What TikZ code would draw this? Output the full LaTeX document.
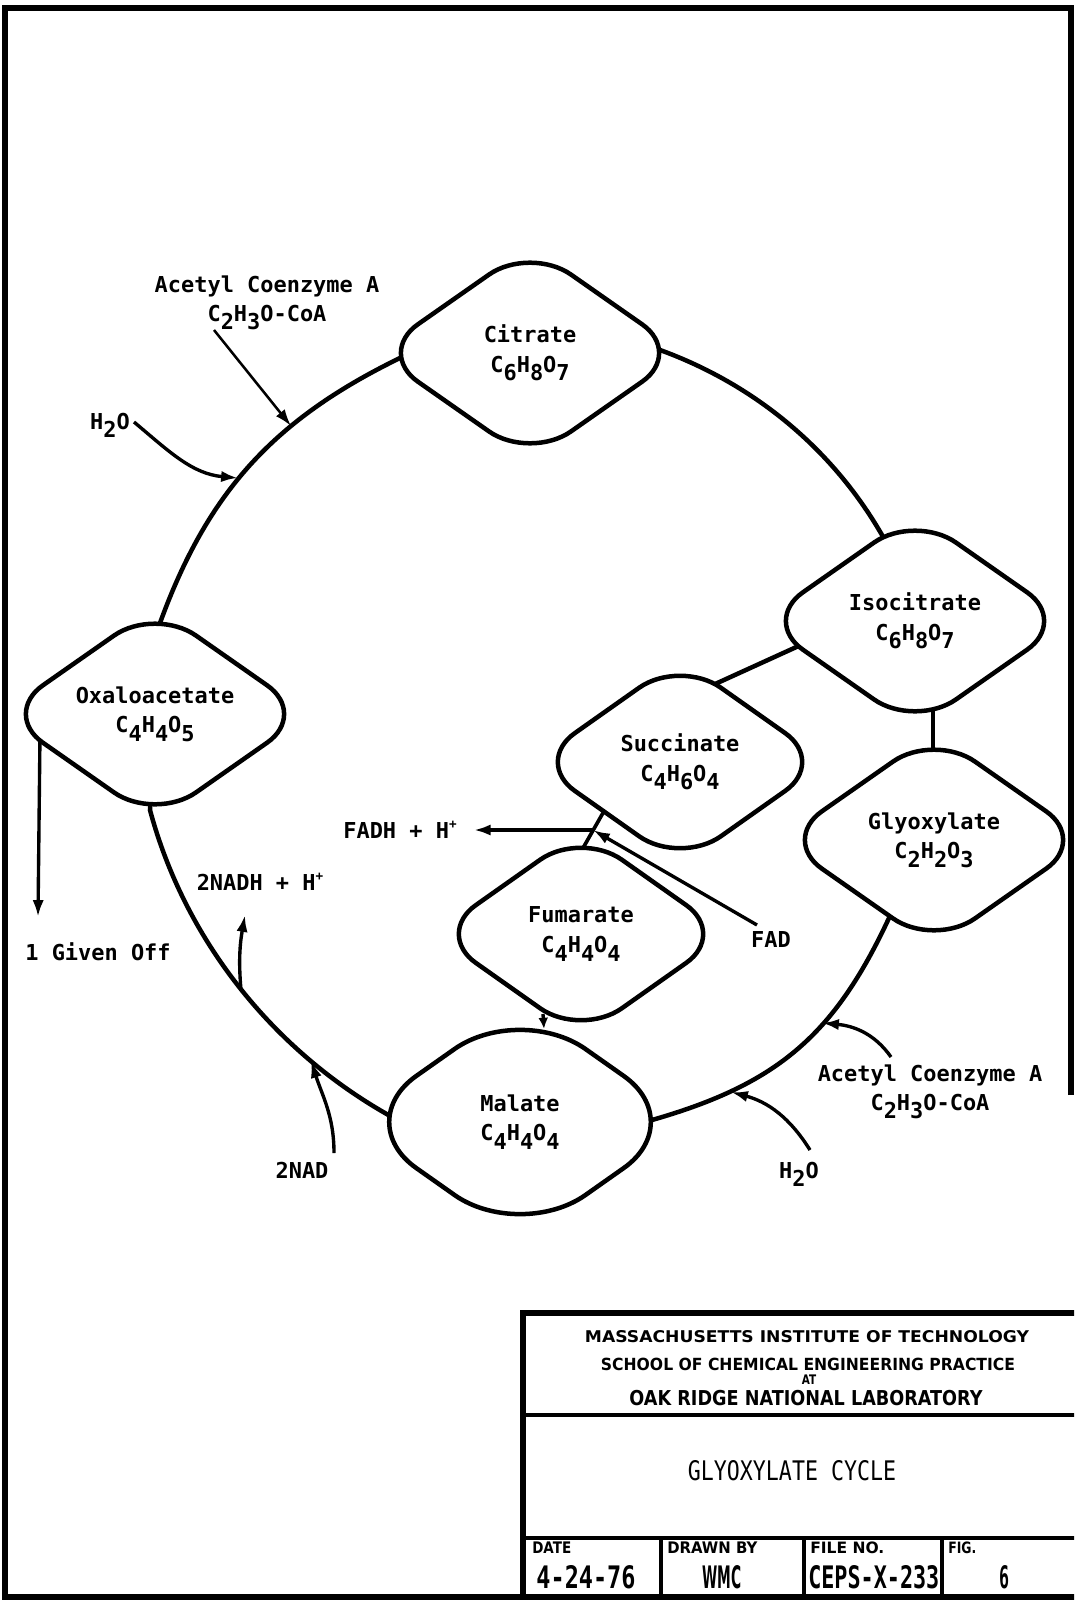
\documentclass[tikz,border=0pt]{standalone}
\usepackage{fontspec}
\usepackage{graphicx}
\setmainfont{DejaVu Sans Mono}
\setsansfont{DejaVu Sans}
\usetikzlibrary{shapes.geometric,arrows.meta,backgrounds}

\newcommand{\dn}[1]{\raisebox{-0.4em}{#1}}
\newcommand{\up}[1]{\raisebox{0.45em}{\small #1}}
\newcommand{\fitbox}[3]{\resizebox{#1}{#2}{#3}}

\tikzset{
  chem/.style={diamond, draw, fill=white, line width=3.2pt, rounded corners=1.25cm,
    minimum width=7.7cm, minimum height=5.4cm, inner sep=0pt, align=center,
    font=\fontsize{15.6}{21}\selectfont\bfseries},
  lab/.style={inner sep=1pt, align=center, anchor=base, font=\fontsize{15.6}{20}\selectfont\bfseries},
  ring/.style={line width=3.2pt},
  arr/.style={line width=2.4pt, -{Latex[length=12pt,width=8pt]}},
  blk/.style={inner sep=0pt, anchor=base, font=\sffamily\bfseries},
}

\begin{document}
\begin{tikzpicture}[x=0.025cm,y=0.025cm]
	\clip (0,0) rectangle (1074,-1602);

	% compounds of the cycle
	\node[chem] (cit) at (530,-353) {Citrate\\C\dn6H\dn8O\dn7};
	\node[chem] (iso) at (915,-621) {Isocitrate\\C\dn6H\dn8O\dn7};
	\node[chem] (gly) at (934,-840) {Glyoxylate\\C\dn2H\dn2O\dn3};
	\node[chem, minimum width=7.35cm, minimum height=5.2cm] (suc) at (680,-762) {Succinate\\C\dn4H\dn6O\dn4};
	\node[chem, minimum width=7.35cm, minimum height=5.2cm] (fum) at (581,-934) {Fumarate\\C\dn4H\dn4O\dn4};
	\node[chem, minimum width=8.5cm, minimum height=6cm, rounded corners=2cm] (mal) at (520,-1122) {Malate\\C\dn4H\dn4O\dn4};
	\node[chem] (oxal) at (155,-714) {Oxaloacetate\\C\dn4H\dn4O\dn5};

	% the ring, drawn under the compounds
	\begin{scope}[on background layer]
		\draw[ring] (oxal.center) -- ([shift={(5,91)}]oxal.center) .. controls +(70:140) and +(206:140) .. ([shift={(-130,-5)}]cit.center) -- (cit.center);
		\draw[ring] (cit.center) -- ([shift={(130,3)}]cit.center) .. controls +(-20:100) and +(120:100) .. ([shift={(-33,86)}]iso.center) -- (iso.center);
		\draw[ring] ([shift={(18,0)}]iso.center) -- ([shift={(-1,0)}]gly.center);
		\draw[ring] (gly.center) -- ([shift={(-45,-78)}]gly.center) .. controls +(-115:130) and +(16:130) .. ([shift={(132,2)}]mal.center) -- (mal.center);
		\draw[ring] (mal.center) -- ([shift={(-128,5)}]mal.center) .. controls +(151:135) and +(-75:135) .. ([shift={(-5,-96)}]oxal.center) -- (oxal.center);
		\draw[ring] ([shift={(0,28)}]iso.center) -- ([shift={(0,62)}]suc.center);
		\draw[ring, line width=2.6pt] ([shift={(-48,0)}]suc.center) -- ([shift={(-47,0)}]fum.center);
		\coordinate (off) at (38,-917);
		\draw[arr] ([shift={(-115,-20)}]oxal.center) -- (off);
	\end{scope}
	\draw[arr, -{Latex[length=8pt,width=7pt]}] ([shift={(-38,-80)}]fum.center) -- ([shift={(24,93)}]mal.center);

	% side reactions
	\node[lab] (acoa1) at (267,-321) {Acetyl Coenzyme A\\C\dn2H\dn3O-CoA};
	\coordinate (t1) at (291,-426);
	\draw[arr, line width=1.8pt] ([shift={(-53,-9)}]acoa1.base) -- (t1);

	\node[lab] (h2oa) at (110,-429) {H\dn2O};
	\coordinate (t2) at (238,-478);
	\draw[arr] ([shift={(24,7)}]h2oa.base) to[out=-40,in=175] (t2);

	\node[lab] (given) at (98,-960) {1 Given Off};

	\coordinate (fadj) at ([shift={(-87,-68)}]suc.center);
	\node[lab] (fad) at (771,-947) {FAD};
	\draw[arr] ([shift={(-14,22)}]fad.base) -- (fadj);
	\node[lab, inner xsep=12pt] (fadh) at (400,-838) {FADH + H\up{+}};
	\draw[arr] (fadj) -- (fadj -| fadh.east);

	\node[lab] (nadh) at (260,-890) {2NADH + H\up{+}};
	\coordinate (s5) at (241,-990);
	\draw[arr] (s5) to[out=95,in=-100] ([shift={(-15,-25)}]nadh.base);

	\node[lab] (nad) at (302,-1178) {2NAD};
	\coordinate (t6) at (311,-1061);
	\draw[arr] ([shift={(32,25)}]nad.base) to[out=90,in=-72] (t6);

	\node[lab] (h2ob) at (799,-1178) {H\dn2O};
	\coordinate (t7) at (731,-1092);
	\draw[arr] ([shift={(11,28)}]h2ob.base) to[out=122,in=-15] (t7);

	\node[lab] (acoa2) at (930,-1110) {Acetyl Coenzyme A\\C\dn2H\dn3O-CoA};
	\coordinate (t8) at (822,-1023);
	\draw[arr] ([shift={(-39,53)}]acoa2.base) to[out=125,in=-5] (t8);

	% sheet frame and title block
	\draw[line width=4.3pt] (1071,-1095) -- (1071,-8) -- (5,-8) -- (5,-1597) -- (1080,-1597);
	\draw[line width=3.6pt] (1080,-1313) -- (523,-1313) -- (523,-1597);
	\draw[line width=2.8pt] (523,-1415) -- (1080,-1415);
	\draw[line width=2.8pt] (523,-1538) -- (1080,-1538);
	\foreach \xx in {661,804,942}
		\draw[line width=2.4pt] (\xx,-1538) -- (\xx,-1597);

	\node[blk] (mit) at (807,-1342) {\fitbox{11.1cm}{0.3cm}{MASSACHUSETTS INSTITUTE OF TECHNOLOGY}};
	\node[blk] (sch) at (808,-1370) {\fitbox{10.35cm}{0.31cm}{SCHOOL OF CHEMICAL ENGINEERING PRACTICE}};
	\node[blk] (at) at (809,-1384) {\fitbox{0.36cm}{0.24cm}{AT}};
	\node[blk] (ornl) at (806,-1405) {\fitbox{8.825cm}{0.38cm}{OAK RIDGE NATIONAL LABORATORY}};
	\node[inner sep=0pt, anchor=base] (ttl) at (792,-1480) {\fitbox{5.2cm}{0.5cm}{GLYOXYLATE CYCLE}};

	\node[blk, anchor=base west] (date) at (532,-1553) {\fitbox{0.975cm}{0.29cm}{DATE}};
	\node[blk, anchor=base west] (drawn) at (667,-1553) {\fitbox{2.25cm}{0.29cm}{DRAWN BY}};
	\node[blk, anchor=base west] (fileno) at (810,-1553) {\fitbox{1.85cm}{0.29cm}{FILE NO.}};
	\node[blk, anchor=base west] (fig) at (948,-1553) {\fitbox{0.7cm}{0.29cm}{FIG.}};
	\node[inner sep=0pt, anchor=base, font=\bfseries] (dval) at (586,-1588) {\fitbox{2.475cm}{0.575cm}{4-24-76}};
	\node[blk] (wval) at (722,-1588) {\fitbox{0.975cm}{0.575cm}{WMC}};
	\node[inner sep=0pt, anchor=base west, font=\bfseries] (fval) at (808,-1588) {\fitbox{3.275cm}{0.575cm}{CEPS-X-233}};
	\node[inner sep=0pt, anchor=base, font=\bfseries] (gval) at (1004,-1588) {\fitbox{0.25cm}{0.575cm}{6}};
\end{tikzpicture}
\end{document}
